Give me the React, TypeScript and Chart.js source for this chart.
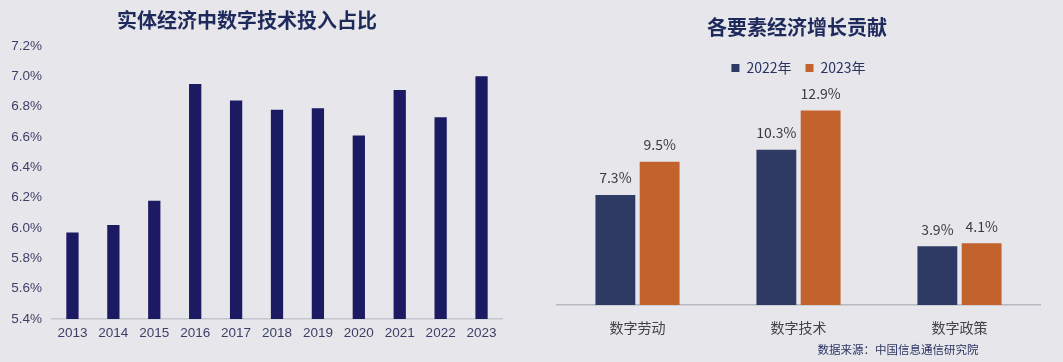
import React, { useEffect, useRef } from "react";
import { Chart, registerables } from "chart.js";

Chart.register(...registerables);

const leftTitle = "实体经济中数字技术投入占比";
const years = ["2013", "2014", "2015", "2016", "2017", "2018", "2019", "2020", "2021", "2022", "2023"];
const shareValues = [5.97, 6.02, 6.18, 6.95, 6.84, 6.78, 6.79, 6.61, 6.91, 6.73, 7.0];

const rightTitle = "各要素经济增长贡献";
const factors = ["数字劳动", "数字技术", "数字政策"];
const seriesNames = ["2022年", "2023年"];
const values2022 = [7.3, 10.3, 3.9];
const values2023 = [9.5, 12.9, 4.1];
const sourceNote = "数据来源：中国信息通信研究院";

const BG = "#e6e6eb";
const CJK = '"Noto Sans CJK SC", "Noto Sans", sans-serif';

const textPlugin = {
  id: "freeText",
  afterDraw(chart: any, _args: any, opts: any) {
    const items = (opts && opts.items) || [];
    const ctx = chart.ctx;
    ctx.save();
    for (const it of items) {
      ctx.font = it.font;
      ctx.fillStyle = it.color;
      ctx.textAlign = it.align || "center";
      ctx.textBaseline = "middle";
      ctx.fillText(it.text, it.x, it.y);
    }
    ctx.restore();
  },
};

const valueLabelPlugin = {
  id: "valueLabels",
  afterDatasetsDraw(chart: any, _args: any, opts: any) {
    if (!opts || !opts.enabled) return;
    const ctx = chart.ctx;
    ctx.save();
    ctx.font = opts.font;
    ctx.fillStyle = opts.color;
    ctx.textAlign = "center";
    ctx.textBaseline = "middle";
    chart.data.datasets.forEach((ds: any, di: number) => {
      const meta = chart.getDatasetMeta(di);
      meta.data.forEach((bar: any, i: number) => {
        ctx.fillText(ds.data[i].toFixed(1) + "%", bar.x, bar.y - opts.offset);
      });
    });
    ctx.restore();
  },
};

function LeftChart() {
  const ref = useRef<HTMLCanvasElement>(null);
  useEffect(() => {
    const chart = new Chart(ref.current!, {
      type: "bar",
      data: {
        labels: years,
        datasets: [
          {
            data: shareValues,
            backgroundColor: "#1c1a63",
            borderWidth: 0,
            barPercentage: 0.3,
            categoryPercentage: 1,
          },
        ],
      },
      options: {
        animation: false,
        responsive: false,
        layout: { padding: { top: 46, right: 10, left: 0, bottom: 0 } },
        plugins: {
          legend: { display: false },
          tooltip: { enabled: false },
          freeText: {
            items: [
              { text: leftTitle, x: 247, y: 20, font: `bold 20px ${CJK}`, color: "#1f2a5c" },
            ],
          },
          valueLabels: { enabled: false },
        } as any,
        scales: {
          x: {
            grid: { display: false, drawTicks: false },
            border: { display: true, color: "#c6c6d0", width: 1.5 },
            ticks: {
              padding: 6,
              color: "#3d3f66",
              font: { family: '"Liberation Sans", Arial, sans-serif', size: 13.5 },
            },
            afterFit: (s: any) => { s.height = 43; },
          },
          y: {
            min: 5.4,
            max: 7.2,
            grid: { display: false, drawTicks: false },
            border: { display: false },
            ticks: {
              stepSize: 0.2,
              padding: 10,
              color: "#3d3f66",
              font: { family: '"Liberation Sans", Arial, sans-serif', size: 13.5 },
              callback: (v: any) => Number(v).toFixed(1) + "%",
            },
            afterFit: (s: any) => { s.width = 52; },
          },
        },
      },
      plugins: [textPlugin, valueLabelPlugin],
    });
    return () => chart.destroy();
  }, []);
  return (
    <canvas
      ref={ref}
      width={512}
      height={362}
      style={{ position: "absolute", left: 0, top: 0, width: 512, height: 362 }}
    />
  );
}

function RightChart() {
  const ref = useRef<HTMLCanvasElement>(null);
  useEffect(() => {
    const chart = new Chart(ref.current!, {
      type: "bar",
      data: {
        labels: factors,
        datasets: [
          {
            label: seriesNames[0],
            data: values2022,
            backgroundColor: "#2f3a64",
            borderWidth: 0,
            barPercentage: 0.9,
            categoryPercentage: 0.55,
          },
          {
            label: seriesNames[1],
            data: values2023,
            backgroundColor: "#c2622d",
            borderWidth: 0,
            barPercentage: 0.9,
            categoryPercentage: 0.55,
          },
        ],
      },
      options: {
        animation: false,
        responsive: false,
        layout: { padding: { top: 47, right: 23, left: 17, bottom: 0 } },
        plugins: {
          legend: {
            display: true,
            position: "top",
            labels: {
              boxWidth: 8,
              boxHeight: 8,
              padding: 14,
              color: "#2a3360",
              font: { family: CJK, size: 14 },
            },
          },
          tooltip: { enabled: false },
          freeText: {
            items: [
              { text: rightTitle, x: 257, y: 27, font: `bold 20px ${CJK}`, color: "#1f2a5c" },
              { text: sourceNote, x: 358, y: 350, font: `11.5px ${CJK}`, color: "#2c3463" },
            ],
          },
          valueLabels: { enabled: true, offset: 17, font: `14px ${CJK}`, color: "#3b3b3b" },
        } as any,
        scales: {
          x: {
            grid: { display: false, drawTicks: false },
            border: { display: true, color: "#b8b8c2", width: 1.5 },
            ticks: {
              padding: 14,
              color: "#444444",
              font: { family: CJK, size: 14 },
            },
            afterFit: (s: any) => { s.height = 57; },
          },
          y: {
            display: false,
            min: 0,
            max: 14.6,
          },
        },
      },
      plugins: [textPlugin, valueLabelPlugin],
    });
    return () => chart.destroy();
  }, []);
  return (
    <canvas
      ref={ref}
      width={523}
      height={362}
      style={{ position: "absolute", left: 540, top: 0, width: 523, height: 362 }}
    />
  );
}

export default function App() {
  return (
    <div
      style={{
        position: "fixed",
        left: 0,
        top: 0,
        width: 1063,
        height: 362,
        background: BG,
        overflow: "hidden",
      }}
    >
      <LeftChart />
      <RightChart />
    </div>
  );
}
